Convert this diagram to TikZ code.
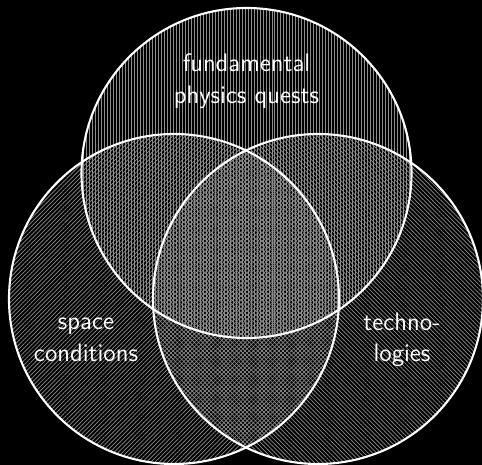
\documentclass[tikz,border=0pt]{standalone}
\usepackage{tikz}
\usetikzlibrary{positioning,patterns.meta}

\begin{document}
\begin{tikzpicture}[
  font=\sffamily\Large,
  set/.style    = {circle, minimum size=6.6cm, inner sep=0pt,
                   pattern color=white!55!black},
  rim/.style    = {draw=white, line width=1.2pt},
  lbl/.style    = {text=white, align=center, inner sep=1pt}
]
% Background
\fill[black] (0,0) rectangle (9.64,9.3);
\useasboundingbox (0,0) rectangle (9.64,9.3);

% Sets
\node[set, pattern={Lines[angle=90,distance=1.7pt,line width=0.4pt]}]
  (phys) at (4.93,5.84) {};
\node[set, pattern={Lines[angle=45,distance=1.7pt,line width=0.4pt]}]
  (space) at (3.48,3.32) {};
\node[set, pattern={Lines[angle=-45,distance=1.7pt,line width=0.4pt]}]
  (tech) at (6.36,3.32) {};

% Outlines on top
\foreach \s in {phys,space,tech}
  \draw[rim] (\s.center) circle[radius=3.3cm];

% Labels
\node[lbl] (physl)  at (4.93,7.68) {fundamental\\physics quests};
\node[lbl] (spacel) at (1.72,2.50) {space\\conditions};
\node[lbl] (techl)  at (8.04,2.50) {techno-\\logies};
\end{tikzpicture}
\end{document}
